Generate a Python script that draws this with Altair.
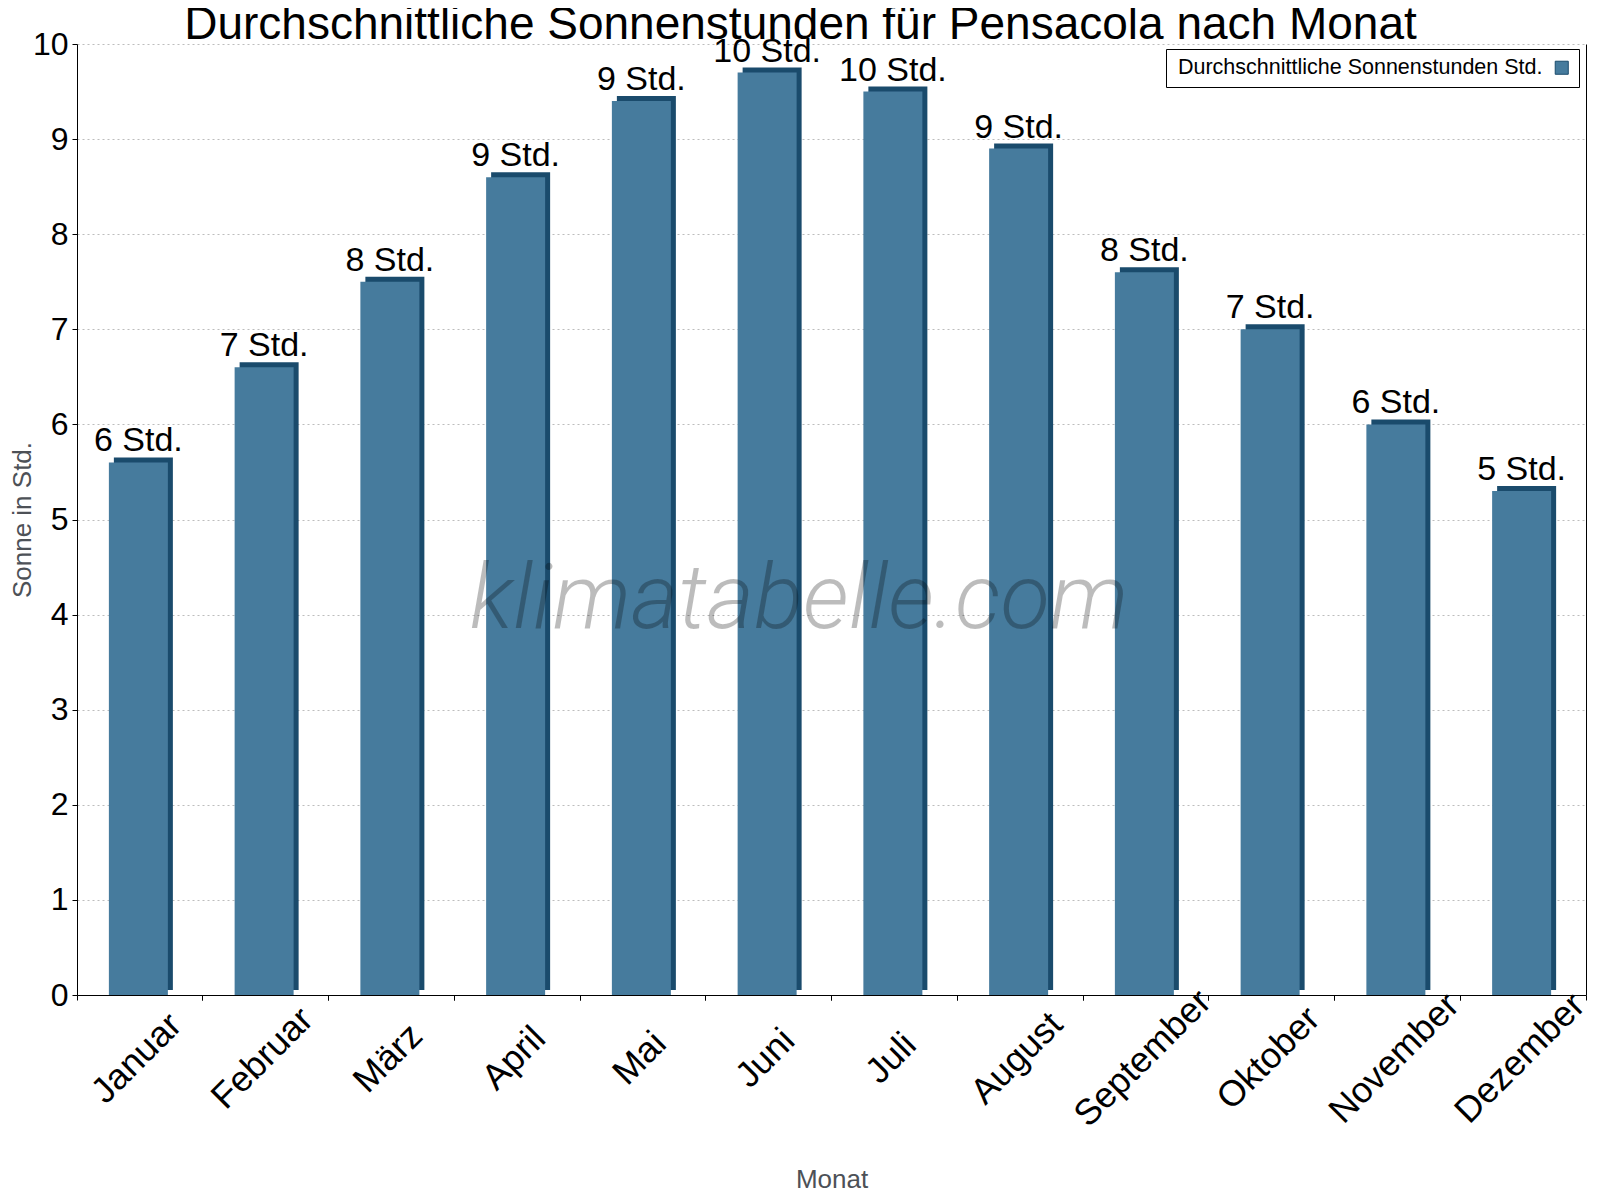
import altair as alt
import pandas as pd

# data
months = ["Januar", "Februar", "März", "April", "Mai", "Juni",
          "Juli", "August", "September", "Oktober", "November", "Dezember"]
sun_hours = [5.6, 6.6, 7.5, 8.6, 9.4, 9.7, 9.5, 8.9, 7.6, 7.0, 6.0, 5.3]
series_name = "Durchschnittliche Sonnenstunden Std."
y_ticks = [0, 1, 2, 3, 4, 5, 6, 7, 8, 9, 10]

FONT = "Arial, Liberation Sans"
FRONT = "#467b9d"
SIDE = "#1a4b6c"

df = pd.DataFrame({"Monat": months, "Sonne": sun_hours, "Reihe": series_name})
base = alt.Chart(df)

x_scale = alt.Scale(domain=months, paddingInner=0, paddingOuter=0)
y_scale = alt.Scale(domain=[0, 10], nice=False)

# darker bar behind, shifted up/right -> fake 3D side and top
side = base.mark_bar(size=59, color=SIDE, xOffset=3.5, yOffset=-5).encode(
    x=alt.X("Monat:N", sort=months, scale=x_scale,
            axis=alt.Axis(orient="bottom", title="Monat", ticks=False, domain=True,
                          domainColor="black", labelAngle=-45, labelAlign="center",
                          labelBaseline="middle", labelPadding=63, labelFontSize=36,
                          labelOffset=alt.ExprRef(expr="-3"),
                          labelColor="black", labelFont=FONT, labelOverlap=False,
                          labelLimit=400, titleFontSize=26, titleColor="#4d5157",
                          titleFont=FONT, titleFontWeight="normal", titleY=192,
                          titleBaseline="alphabetic", grid=False)),
    y=alt.Y("Sonne:Q", scale=y_scale,
            axis=alt.Axis(orient="left", title="Sonne in Std.", values=y_ticks, format="d",
                          labelFontSize=32, labelColor="black", labelFont=FONT,
                          labelPadding=4, tickSize=5, tickColor="black",
                          domainColor="black", grid=True, gridColor="#bdbdbd",
                          gridDash=[2, 3], titleFontSize=26, titleColor="#4d5157",
                          titleFont=FONT, titleFontWeight="normal", titleX=-47,
                          titleBaseline="alphabetic")),
)

front = base.mark_bar(size=59, xOffset=-1.5).encode(
    x=alt.X("Monat:N", sort=months, scale=x_scale,
            axis=alt.Axis(orient="bottom", title=None, labels=False, domain=False,
                          grid=False, bandPosition=1, tickSize=5, tickColor="black")),
    y=alt.Y("Sonne:Q", scale=y_scale,
            axis=alt.Axis(orient="right", title=None, labels=False, ticks=False,
                          grid=False, domain=True, domainColor="black")),
    color=alt.Color("Reihe:N", scale=alt.Scale(range=[FRONT]),
                    legend=alt.Legend(title=None, orient="none", legendX=1089, legendY=5,
                                      strokeColor="black", fillColor="white", padding=8,
                                      labelFontSize=21.5, labelFont=FONT, labelColor="black",
                                      labelLimit=600, labelAlign="right",
                                      labelOffset=alt.ExprRef(expr="-30"),
                                      symbolOffset=377, symbolType="square", symbolSize=170,
                                      symbolStrokeColor=SIDE, symbolStrokeWidth=1)),
)

labels = base.transform_calculate(
    label="format(datum.Sonne, '.0f') + ' Std.'"
).mark_text(fontSize=34, font=FONT, color="black", baseline="alphabetic",
            dy=-11, xOffset=-1.5).encode(
    x=alt.X("Monat:N", sort=months, scale=x_scale,
            axis=alt.Axis(orient="bottom", title=None, labels=False, domain=False,
                          grid=False, bandPosition=0, tickSize=5, tickColor="black")),
    y=alt.Y("Sonne:Q", scale=y_scale, axis=None),
    text="label:N",
)

watermark = alt.Chart(pd.DataFrame({"t": ["klimatabelle.com"]})).mark_text(
    font="Roboto", fontSize=91, fontStyle="italic", fontWeight=300,
    color="black", opacity=0.26, align="center", baseline="alphabetic",
).encode(x=alt.value(722), y=alt.value(584), text="t:N")

chart = alt.layer(side, front, watermark, labels).resolve_axis(
    x="independent", y="independent"
).properties(
    width=1509, height=951,
    autosize=alt.AutoSizeParams(type="none"),
    padding={"left": 69, "top": 36, "right": 6, "bottom": 197},
    title=alt.TitleParams("Durchschnittliche Sonnenstunden für Pensacola nach Monat",
                          fontSize=46, font=FONT, fontWeight="normal", color="black",
                          anchor="middle", frame="group", offset=0, dx=-31, dy=21),
).configure_view(stroke=None)

chart.save("out.html", embed_options={"renderer": "svg", "actions": False})
